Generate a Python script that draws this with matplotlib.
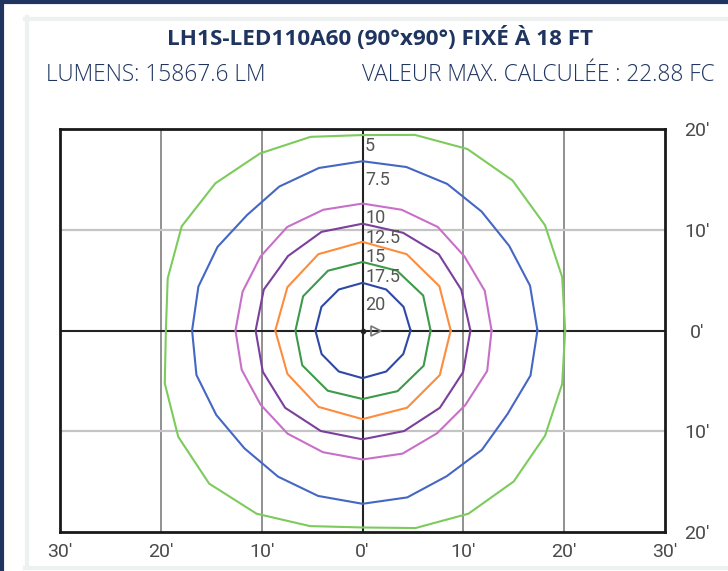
import numpy as np
import matplotlib
matplotlib.use("Agg")
import matplotlib.pyplot as plt
from matplotlib.lines import Line2D

# ---------------- data ----------------
title = "LH1S-LED110A60 (90°x90°) FIXÉ À 18 FT"
lumens_text = "LUMENS: 15867.6 LM"
max_text = "VALEUR MAX. CALCULÉE : 22.88 FC"

levels = ["5", "7.5", "10", "12.5", "15", "17.5", "20"]
# contour radii (ft) at equally spaced angles, counter-clockwise from east
r_5 = [20.1, 20.5, 20.9, 21.05, 20.8, 20.1, 19.4, 19.9, 20.3, 20.65, 20.7, 20.0,
       19.5, 20.3, 21.1, 21.5, 21.0, 20.1, 19.55, 20.3, 21.0, 21.2, 20.9, 20.5]
r_7_5 = [17.35, 17.2, 16.8, 16.7, 16.8, 16.8, 16.8, 16.7, 16.5, 16.2, 16.6, 16.85,
         16.9, 17.05, 16.75, 16.55, 16.75, 17.0, 17.2, 17.15, 16.7, 16.75, 16.6, 17.25]
r_10 = [12.8, 12.75, 12.5, 12.7, 12.6, 12.6, 12.6, 12.7, 12.5, 12.5,
        12.6, 12.6, 12.5, 12.65, 12.7, 12.8, 12.85, 12.6, 12.6, 13.0]
r_12_5 = [10.7, 10.6, 10.7, 10.5, 10.6, 10.6, 10.45, 10.6,
          10.6, 10.7, 10.85, 10.8, 10.8, 10.8, 10.85, 10.8]
r_15 = [8.75, 8.8, 8.75, 8.8, 8.75, 8.6, 8.65, 8.6, 8.75, 8.8, 8.85, 8.85]
r_17_5 = [6.75, 6.95, 6.85, 6.8, 6.85, 6.8, 6.65, 6.9, 6.9, 6.8, 6.95, 7.0]
r_20 = [4.77, 4.7, 4.7, 4.73, 4.7, 4.7, 4.67, 4.68, 4.7, 4.73, 4.7, 4.67]
radii = [r_5, r_7_5, r_10, r_12_5, r_15, r_17_5, r_20]

x_ticks = [-30, -20, -10, 0, 10, 20, 30]
x_tick_labels = ["30′", "20′", "10′", "0′", "10′", "20′", "30′"]
y_ticks = [20, 10, 0, -10, -20]
y_tick_labels = ["20′", "10′", "0′", "10′", "20′"]

# ---------------- style ----------------
colors = ["#7ccb5c", "#4467c4", "#c870c8", "#7b3f9c", "#fd8c3c", "#3d9a4a", "#2e48a6"]
label_y = [18.3, 14.9, 11.2, 9.2, 7.3, 5.3, 2.5]
navy = "#1f3560"
grey_txt = "#4a4a4a"
num_font = ["Roboto", "DejaVu Sans"]

W, H = 728, 571
fig = plt.figure(figsize=(W / 100, H / 100), dpi=100)
fig.patch.set_facecolor("white")

# outer navy frame (left/top) and light inner frame
fig.add_artist(Line2D([1.5 / W, 1.5 / W], [0, 1], color=navy, lw=3, transform=fig.transFigure))
fig.add_artist(Line2D([0, 1], [1 - 1.5 / H, 1 - 1.5 / H], color=navy, lw=3, transform=fig.transFigure))
lg = "#edf1ef"
fig.add_artist(Line2D([26.5 / W, 26.5 / W], [1 - 568 / H, 1 - 17 / H], color=lg, lw=3, transform=fig.transFigure))
fig.add_artist(Line2D([25 / W, 1], [1 - 18.5 / H, 1 - 18.5 / H], color=lg, lw=3, transform=fig.transFigure))
fig.add_artist(Line2D([25 / W, 1], [1 - 567.5 / H, 1 - 567.5 / H], color=lg, lw=3, transform=fig.transFigure))

fig.text(380 / W, 1 - 38 / H, title, ha="center", va="center", fontsize=16.2,
         fontweight="bold", color=navy, family=["Open Sans", "DejaVu Sans"])
fig.text(46 / W, 1 - 75 / H, lumens_text, ha="left", va="center", fontsize=16.3,
         color=navy, family=["Open Sans", "DejaVu Sans"], fontweight="light")
fig.text(715 / W, 1 - 75 / H, max_text, ha="right", va="center", fontsize=16.3,
         color=navy, family=["Open Sans", "DejaVu Sans"], fontweight="light")

ax = fig.add_axes([60 / W, 1 - 532 / H, 605 / W, 403 / H])
ax.set_xlim(-30, 30)
ax.set_ylim(-20, 20)

for x in [-20, -10, 10, 20]:
    ax.axvline(x, color="#888888", lw=1.3, zorder=1)
for y in [-10, 10]:
    ax.axhline(y, color="#c4c4c4", lw=1.6, zorder=1)
ax.axvline(0, color="#222222", lw=1.5, zorder=2)
ax.axhline(0, color="#222222", lw=1.5, zorder=2)

for r, c in zip(radii, colors):
    r = np.asarray(r, dtype=float)
    th = np.linspace(0, 2 * np.pi, len(r), endpoint=False)
    xs = np.append(r * np.cos(th), r[0])
    ys = np.append(r * np.sin(th), 0.0)
    ax.plot(xs, ys, color=c, lw=1.5, zorder=3)

for lab, ly in zip(levels, label_y):
    ax.text(0.25, ly, lab, ha="left", va="center", fontsize=13, color="#555555",
            family=["Roboto", "DejaVu Sans"], zorder=4)

ax.plot([0], [0], marker="o", ms=3, color="#222222", zorder=5)
ax.plot([1.3], [0], marker=">", ms=7, mfc="none", mec="#777777", mew=1.2, zorder=5)

for s in ax.spines.values():
    s.set_linewidth(2)
    s.set_color("#1a1a1a")

ax.set_xticks(x_ticks)
ax.set_xticklabels(x_tick_labels)
ax.yaxis.tick_right()
ax.set_yticks(y_ticks)
ax.set_yticklabels(y_tick_labels)
ax.tick_params(axis="both", length=0, labelsize=14, colors=grey_txt)
ax.tick_params(axis="x", pad=8)
ax.tick_params(axis="y", pad=23)
for t in ax.get_xticklabels() + ax.get_yticklabels():
    t.set_family(num_font)
for t in ax.get_yticklabels():
    t.set_ha("center")

fig.savefig("out.png", dpi=100, facecolor="white")
